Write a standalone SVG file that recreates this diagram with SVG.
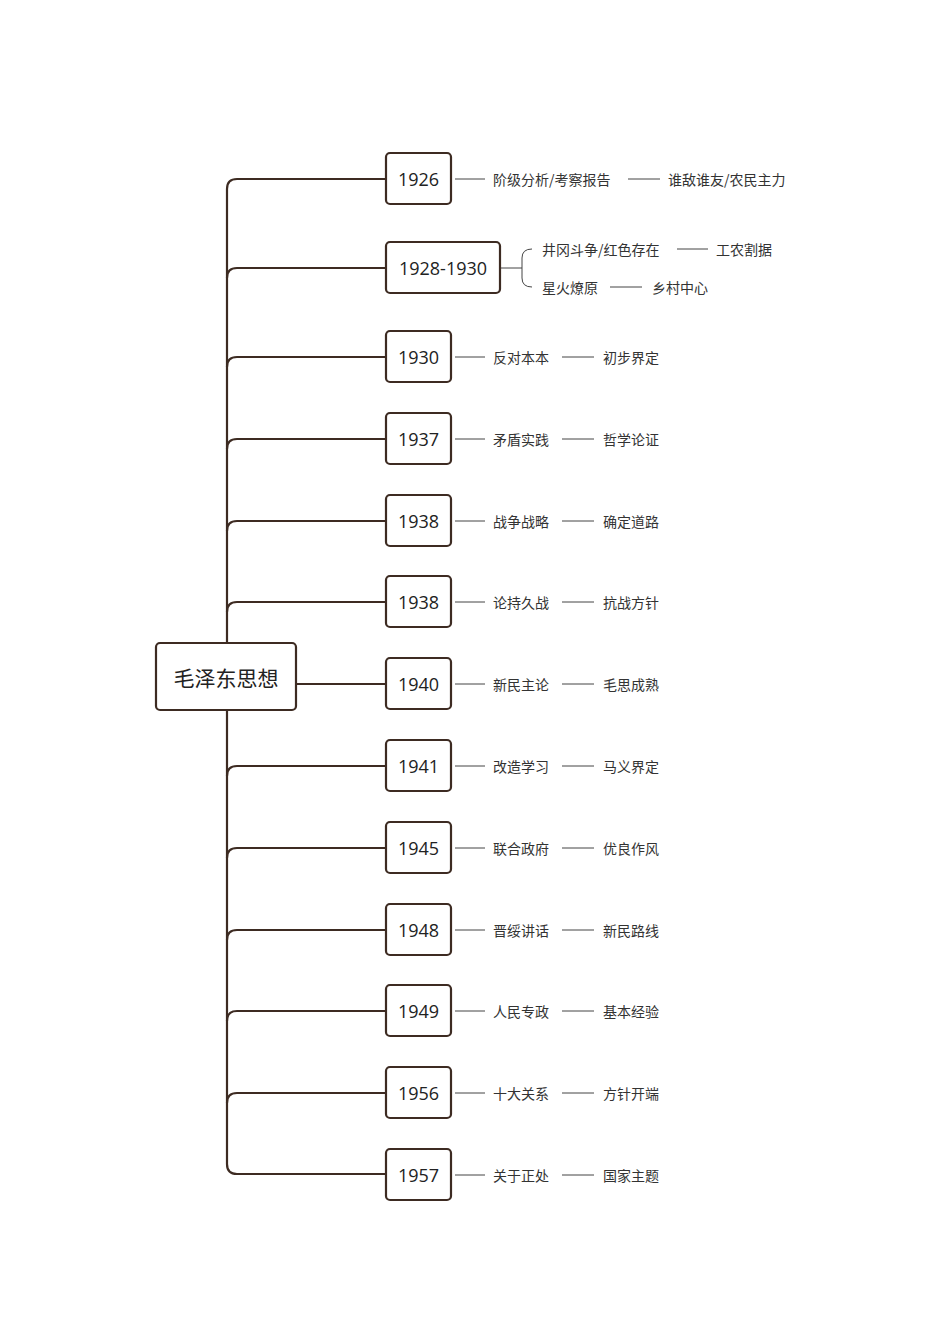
<svg xmlns="http://www.w3.org/2000/svg" width="950" height="1344" viewBox="0 0 950 1344">
<style>
.b{fill:#fff;stroke:#3d2b22;stroke-width:2.2}
.m{fill:none;stroke:#3d2b22;stroke-width:2.2}
.t{fill:none;stroke:#444;stroke-width:1}
.y{font-family:"Open Sans","Noto Sans",sans-serif;font-size:18px;fill:#222;text-anchor:middle;dominant-baseline:central}
.s{font-family:"Noto Sans CJK SC",sans-serif;font-size:14px;fill:#333;dominant-baseline:central}
.r{font-family:"Noto Sans CJK SC",sans-serif;font-size:21px;fill:#222;text-anchor:middle;dominant-baseline:central}
</style>
<rect width="950" height="1344" fill="#fff"/>
<g id="connectors">
<path class="m" d="M385 179 H237 Q227 179 227 189 V1164 Q227 1174 237 1174 H385"/>
<path class="m" d="M227 278 Q227 268 237 268 H385 M227 367 Q227 357 237 357 H385 M227 449 Q227 439 237 439 H385 M227 531 Q227 521 237 521 H385 M227 612 Q227 602 237 602 H385 M296 684 H385 M227 776 Q227 766 237 766 H385 M227 858 Q227 848 237 848 H385 M227 940 Q227 930 237 930 H385 M227 1021 Q227 1011 237 1011 H385 M227 1103 Q227 1093 237 1093 H385"/>
<path class="t" d="M455 179 H485 M628 179 H660 M500 268 H522 M532 249 Q522 249 522 258 V278 Q522 287 532 287 M677 249 H708 M610 287 H642"/>
<path class="t" d="M455 357 H485 M562 357 H594 M455 439 H485 M562 439 H594 M455 521 H485 M562 521 H594 M455 602 H485 M562 602 H594 M455 684 H485 M562 684 H594 M455 766 H485 M562 766 H594 M455 848 H485 M562 848 H594 M455 930 H485 M562 930 H594 M455 1011 H485 M562 1011 H594 M455 1093 H485 M562 1093 H594 M455 1175 H485 M562 1175 H594"/>
</g>
<g id="root"><rect class="b" x="156" y="643" width="140" height="67" rx="4"/><text class="r" x="226" y="677">毛泽东思想</text></g>
<g id="n1926"><rect class="b" x="386" y="153" width="65" height="51" rx="4"/><text class="y" x="418.5" y="179">1926</text><text class="s" x="493" y="179">阶级分析/考察报告</text><text class="s" x="668" y="179">谁敌谁友/农民主力</text></g>
<g id="n1928"><rect class="b" x="386" y="242" width="114" height="51" rx="4"/><text class="y" x="443" y="268">1928-1930</text><text class="s" x="542" y="249">井冈斗争/红色存在</text><text class="s" x="716" y="249">工农割据</text><text class="s" x="542" y="287">星火燎原</text><text class="s" x="652" y="287">乡村中心</text></g>
<g id="n1930"><rect class="b" x="386" y="331" width="65" height="51" rx="4"/><text class="y" x="418.5" y="357">1930</text><text class="s" x="493" y="357">反对本本</text><text class="s" x="603" y="357">初步界定</text></g>
<g id="n1937"><rect class="b" x="386" y="413" width="65" height="51" rx="4"/><text class="y" x="418.5" y="439">1937</text><text class="s" x="493" y="439">矛盾实践</text><text class="s" x="603" y="439">哲学论证</text></g>
<g id="n1938a"><rect class="b" x="386" y="495" width="65" height="51" rx="4"/><text class="y" x="418.5" y="521">1938</text><text class="s" x="493" y="521">战争战略</text><text class="s" x="603" y="521">确定道路</text></g>
<g id="n1938b"><rect class="b" x="386" y="576" width="65" height="51" rx="4"/><text class="y" x="418.5" y="602">1938</text><text class="s" x="493" y="602">论持久战</text><text class="s" x="603" y="602">抗战方针</text></g>
<g id="n1940"><rect class="b" x="386" y="658" width="65" height="51" rx="4"/><text class="y" x="418.5" y="684">1940</text><text class="s" x="493" y="684">新民主论</text><text class="s" x="603" y="684">毛思成熟</text></g>
<g id="n1941"><rect class="b" x="386" y="740" width="65" height="51" rx="4"/><text class="y" x="418.5" y="766">1941</text><text class="s" x="493" y="766">改造学习</text><text class="s" x="603" y="766">马义界定</text></g>
<g id="n1945"><rect class="b" x="386" y="822" width="65" height="51" rx="4"/><text class="y" x="418.5" y="848">1945</text><text class="s" x="493" y="848">联合政府</text><text class="s" x="603" y="848">优良作风</text></g>
<g id="n1948"><rect class="b" x="386" y="904" width="65" height="51" rx="4"/><text class="y" x="418.5" y="930">1948</text><text class="s" x="493" y="930">晋绥讲话</text><text class="s" x="603" y="930">新民路线</text></g>
<g id="n1949"><rect class="b" x="386" y="985" width="65" height="51" rx="4"/><text class="y" x="418.5" y="1011">1949</text><text class="s" x="493" y="1011">人民专政</text><text class="s" x="603" y="1011">基本经验</text></g>
<g id="n1956"><rect class="b" x="386" y="1067" width="65" height="51" rx="4"/><text class="y" x="418.5" y="1093">1956</text><text class="s" x="493" y="1093">十大关系</text><text class="s" x="603" y="1093">方针开端</text></g>
<g id="n1957"><rect class="b" x="386" y="1149" width="65" height="51" rx="4"/><text class="y" x="418.5" y="1175">1957</text><text class="s" x="493" y="1175">关于正处</text><text class="s" x="603" y="1175">国家主题</text></g>
</svg>
